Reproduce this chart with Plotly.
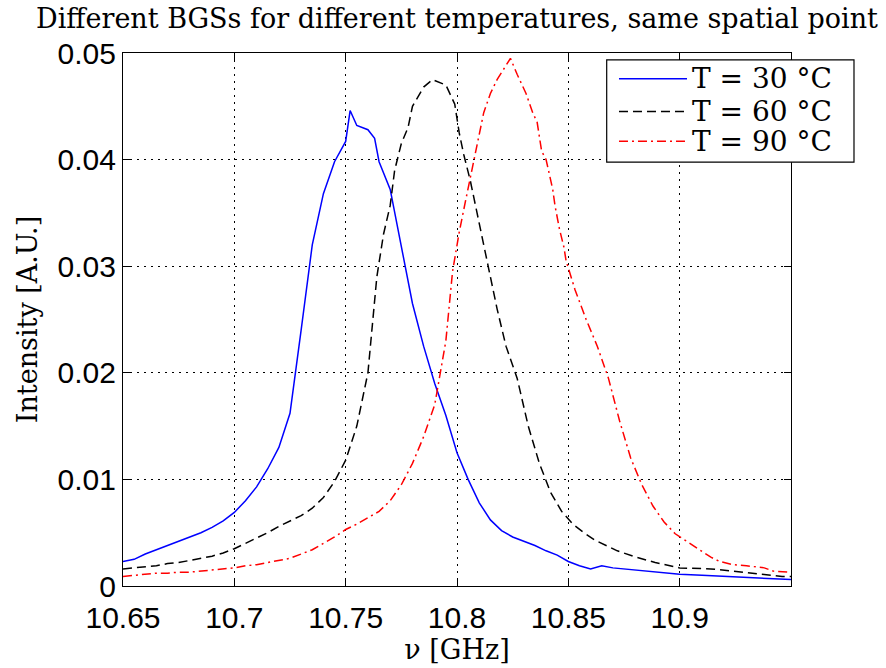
import plotly.graph_objects as go

# ---------------- data ----------------
freq_30 = [10.650, 10.655, 10.660, 10.665, 10.670, 10.675, 10.680, 10.685, 10.690, 10.695,
           10.700, 10.705, 10.710, 10.715, 10.720, 10.725, 10.730, 10.735, 10.740, 10.745,
           10.750, 10.752, 10.755, 10.760, 10.763, 10.765, 10.770, 10.775, 10.778, 10.780,
           10.785, 10.790, 10.795, 10.800, 10.805, 10.810, 10.815, 10.820, 10.825, 10.830,
           10.835, 10.840, 10.845, 10.850, 10.855, 10.860, 10.865, 10.870, 10.880, 10.890,
           10.900, 10.910, 10.920, 10.930, 10.940, 10.950]
int_30 = [0.0023, 0.0025, 0.0030, 0.0034, 0.0038, 0.0042, 0.0046, 0.0050, 0.0055, 0.0061,
          0.0069, 0.0080, 0.0093, 0.0110, 0.0130, 0.0162, 0.0240, 0.0320, 0.0368, 0.0398,
          0.0417, 0.0446, 0.0432, 0.0428, 0.0420, 0.0398, 0.0372, 0.0320, 0.0289, 0.0265,
          0.0225, 0.0190, 0.0160, 0.0125, 0.0100, 0.0078, 0.0062, 0.0052, 0.0046, 0.0042,
          0.0038, 0.0033, 0.0029, 0.0023, 0.0019, 0.0016, 0.0019, 0.0017, 0.0015, 0.0013,
          0.0011, 0.0010, 0.0009, 0.0008, 0.0007, 0.0006]

freq_60 = [10.650, 10.655, 10.660, 10.665, 10.670, 10.675, 10.680, 10.685, 10.690, 10.695,
           10.700, 10.705, 10.710, 10.715, 10.720, 10.725, 10.730, 10.735, 10.740, 10.745,
           10.750, 10.755, 10.760, 10.764, 10.767, 10.770, 10.772, 10.775, 10.778, 10.780,
           10.785, 10.789, 10.795, 10.799, 10.801, 10.803, 10.806, 10.809, 10.811, 10.814,
           10.818, 10.822, 10.827, 10.832, 10.837, 10.842, 10.847, 10.852, 10.857, 10.862,
           10.867, 10.872, 10.879, 10.889, 10.900, 10.914, 10.924, 10.937, 10.946, 10.950]
int_60 = [0.0016, 0.0017, 0.0018, 0.0019, 0.0021, 0.0022, 0.0024, 0.0026, 0.0028, 0.0031,
          0.0035, 0.0040, 0.0045, 0.0050, 0.0056, 0.0061, 0.0066, 0.0073, 0.0083, 0.0098,
          0.0118, 0.0150, 0.0200, 0.0290, 0.0330, 0.0357, 0.0390, 0.0415, 0.0430, 0.0450,
          0.0468, 0.0475, 0.0470, 0.0452, 0.0425, 0.0405, 0.0380, 0.0350, 0.0330, 0.0301,
          0.0260, 0.0225, 0.0195, 0.0150, 0.0115, 0.0088, 0.0070, 0.0058, 0.0050, 0.0043,
          0.0038, 0.0033, 0.0028, 0.0022, 0.0017, 0.0016, 0.0014, 0.0011, 0.0009, 0.0009]

freq_90 = [10.650, 10.655, 10.660, 10.665, 10.670, 10.675, 10.680, 10.685, 10.690, 10.695,
           10.700, 10.705, 10.710, 10.715, 10.720, 10.725, 10.730, 10.735, 10.740, 10.745,
           10.750, 10.755, 10.760, 10.765, 10.770, 10.775, 10.780, 10.785, 10.790, 10.795,
           10.798, 10.801, 10.804, 10.808, 10.812, 10.815, 10.818, 10.821, 10.824, 10.827,
           10.831, 10.834, 10.836, 10.838, 10.840, 10.843, 10.844, 10.846, 10.848, 10.849,
           10.853, 10.858, 10.863, 10.868, 10.873, 10.878, 10.883, 10.888, 10.893, 10.898,
           10.903, 10.908, 10.914, 10.918, 10.924, 10.930, 10.938, 10.942, 10.950]
int_90 = [0.0009, 0.0010, 0.0011, 0.0012, 0.0012, 0.0013, 0.0013, 0.0014, 0.0015, 0.0016,
          0.0017, 0.0019, 0.0020, 0.0022, 0.0024, 0.0026, 0.0030, 0.0034, 0.0040, 0.0046,
          0.0053, 0.0058, 0.0064, 0.0070, 0.0080, 0.0095, 0.0115, 0.0140, 0.0170, 0.0230,
          0.0295, 0.0332, 0.0363, 0.0403, 0.0444, 0.0462, 0.0475, 0.0485, 0.0495, 0.0480,
          0.0462, 0.0444, 0.0435, 0.0408, 0.0400, 0.0372, 0.0357, 0.0335, 0.0318, 0.0305,
          0.0278, 0.0250, 0.0225, 0.0195, 0.0155, 0.0120, 0.0095, 0.0075, 0.0060, 0.0049,
          0.0042, 0.0035, 0.0027, 0.0023, 0.0020, 0.0019, 0.0017, 0.0014, 0.0013]

series_names = ["T = 30 °C", "T = 60 °C", "T = 90 °C"]
x_tick_vals = [10.65, 10.70, 10.75, 10.80, 10.85, 10.90]
x_tick_text = ["10.65", "10.7", "10.75", "10.8", "10.85", "10.9"]
y_tick_vals = [0, 0.01, 0.02, 0.03, 0.04, 0.05]
y_tick_text = ["0", "0.01", "0.02", "0.03", "0.04", "0.05"]

# ---------------- styles ----------------
colors = ["#0000ff", "#000000", "#ff0000"]
dashes = ["solid", "9px,5px", "9px,4px,2px,4px"]
SERIF = "DejaVu Serif, serif"
SANS = "Liberation Sans, Arial, sans-serif"

fig = go.Figure()
for fx, fy, name, c, d in zip([freq_30, freq_60, freq_90], [int_30, int_60, int_90],
                              series_names, colors, dashes):
    fig.add_trace(go.Scatter(x=fx, y=fy, mode="lines", name=name, showlegend=False,
                             line=dict(color=c, width=1.5, dash=d)))

axis_common = dict(showline=True, linecolor="black", linewidth=1.2, mirror="ticks",
                   ticks="inside", ticklen=7, tickcolor="black", tickwidth=1,
                   showgrid=True, gridcolor="black", gridwidth=1, griddash="2px,5px",
                   zeroline=False, tickfont=dict(family=SANS, size=30, color="black"))

fig.update_layout(
    width=886, height=668,
    margin=dict(l=123, r=95, t=53, b=78),
    paper_bgcolor="white", plot_bgcolor="white",
    title=dict(text="Different BGSs for different temperatures, same spatial point",
               font=dict(family=SERIF, size=27, color="black"),
               x=0.5, xref="paper", xanchor="center",
               y=0.972, yref="container", yanchor="middle"),
    xaxis=dict(range=[10.65, 10.95], tickvals=x_tick_vals, ticktext=x_tick_text,
               ticklabelstandoff=5,
               title=dict(text="ν [GHz]", font=dict(family=SERIF, size=27, color="black"),
                          standoff=3),
               **axis_common),
    yaxis=dict(range=[0, 0.05], tickvals=y_tick_vals, ticktext=y_tick_text,
               title=dict(text="Intensity [A.U.]", font=dict(family=SERIF, size=27, color="black"),
                          standoff=12),
               **axis_common),
)

# ---------------- legend (drawn box) ----------------
lx0, lx1, ly0, ly1 = 0.7241, 1.0943, 0.7952, 0.9870
fig.add_shape(type="rect", xref="paper", yref="paper", x0=lx0, x1=lx1, y0=ly0, y1=ly1,
              line=dict(color="black", width=1.2), fillcolor="white", layer="above")
row_y = [0.9516, 0.8901, 0.8343]
for yy, name, c, d in zip(row_y, series_names, colors, dashes):
    fig.add_shape(type="line", xref="paper", yref="paper", x0=0.7425, x1=0.8443, y0=yy, y1=yy,
                  line=dict(color=c, width=1.5, dash=d), layer="above")
    fig.add_annotation(xref="paper", yref="paper", x=0.8490, y=yy, text=name, showarrow=False,
                       xanchor="left", yanchor="middle",
                       font=dict(family=SERIF, size=28, color="black"))

fig.write_html("out.html")
